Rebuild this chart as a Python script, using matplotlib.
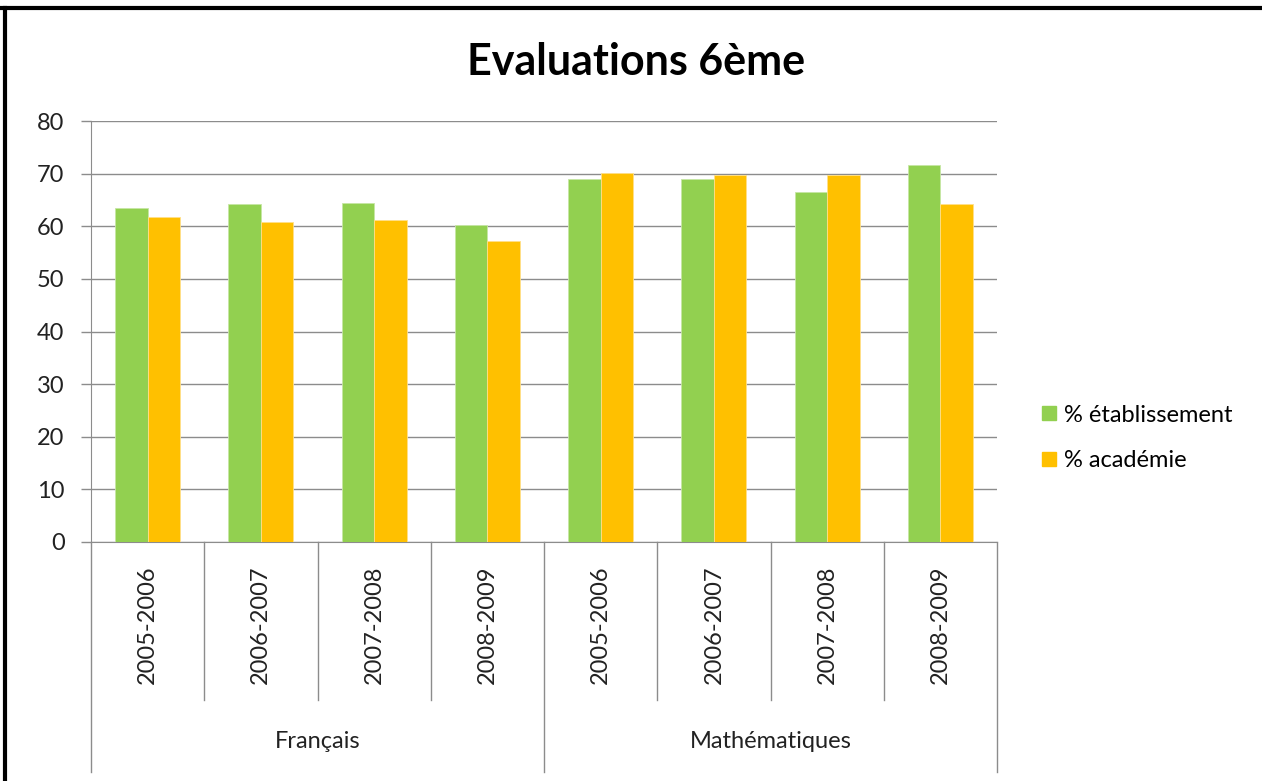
import numpy as np
import matplotlib.pyplot as plt
from matplotlib.lines import Line2D

# data
years = ["2005-2006", "2006-2007", "2007-2008", "2008-2009"]
subjects = ["Français", "Mathématiques"]
etab = [63.5, 64.3, 64.5, 60.3, 68.9, 68.9, 66.5, 71.7]
acad = [61.8, 60.8, 61.1, 57.2, 70.1, 69.7, 69.7, 64.3]

green = "#92D050"
orange = "#FFC000"
grid = "#8c8c8c"
fnt = "Lato"
fs = 17

W, H = 1262, 781
fig = plt.figure(figsize=(W/100, H/100), dpi=100)
ax = fig.add_axes([91/W, 1-542/H, (997-91)/W, (542-121)/H])

n = len(etab)
x = np.arange(n)
bw = 0.287
ax.bar(x - bw/2, etab, bw, color=green, edgecolor="#c6e6a4", linewidth=0.6, label="% établissement", zorder=3)
ax.bar(x + bw/2, acad, bw, color=orange, edgecolor="#ffe08a", linewidth=0.6, label="% académie", zorder=3)

ax.set_xlim(-0.5, n-0.5)
ax.set_ylim(0, 80)
ax.set_yticks(range(0, 81, 10))
ax.yaxis.grid(True, color=grid, linewidth=1.0, zorder=0)
ax.tick_params(axis="y", direction="out", length=7, color=grid, width=1, pad=12, labelsize=fs)
for lb in ax.get_yticklabels():
    lb.set_fontfamily(fnt)
    lb.set_color("#222222")

for s in ["top", "right"]:
    ax.spines[s].set_visible(False)
ax.spines["left"].set_color(grid)
ax.spines["bottom"].set_color(grid)

ax.set_xticks(x)
ax.set_xticklabels(years * 2, rotation=90, fontsize=fs, family=fnt, color="#222222")
ax.tick_params(axis="x", length=0, pad=17)
for lb in ax.get_xticklabels():
    lb.set_va("top")

# category axis separators
tr = ax.get_xaxis_transform()
y_in = -(700-542)/421
y_out = -(772-542)/421
for b in np.arange(-0.5, n, 1.0):
    outer = b in (-0.5, 3.5, n-0.5)
    ax.plot([b, b], [0, y_out if outer else y_in], color=grid, lw=1, transform=tr, clip_on=False)
for i, s in enumerate(subjects):
    ax.text(1.5 + 4*i, -(741-542)/421, s, transform=tr, ha="center", va="center",
            fontsize=fs, family=fnt, color="#222222")

fig.text(636/W, 1-62/H, "Evaluations 6ème", ha="center", va="center",
         fontsize=31, fontweight="bold", family=fnt)

handles = [Line2D([], [], marker="s", ls="", color=green, markersize=10),
           Line2D([], [], marker="s", ls="", color=orange, markersize=10)]
fig.legend(handles, ["% établissement", "% académie"], loc="center left",
           bbox_to_anchor=(1018/W, 1-438/H), frameon=False, handlelength=0.8,
           handletextpad=0.25, labelspacing=1.05, prop={"family": fnt, "size": fs})

# outer frame
fig.add_artist(Line2D([0, 1], [1-8/H, 1-8/H], color="black", lw=3, transform=fig.transFigure))
fig.add_artist(Line2D([5/W, 5/W], [0, 1-8/H], color="black", lw=3, transform=fig.transFigure))

fig.savefig("out.png", dpi=100)
